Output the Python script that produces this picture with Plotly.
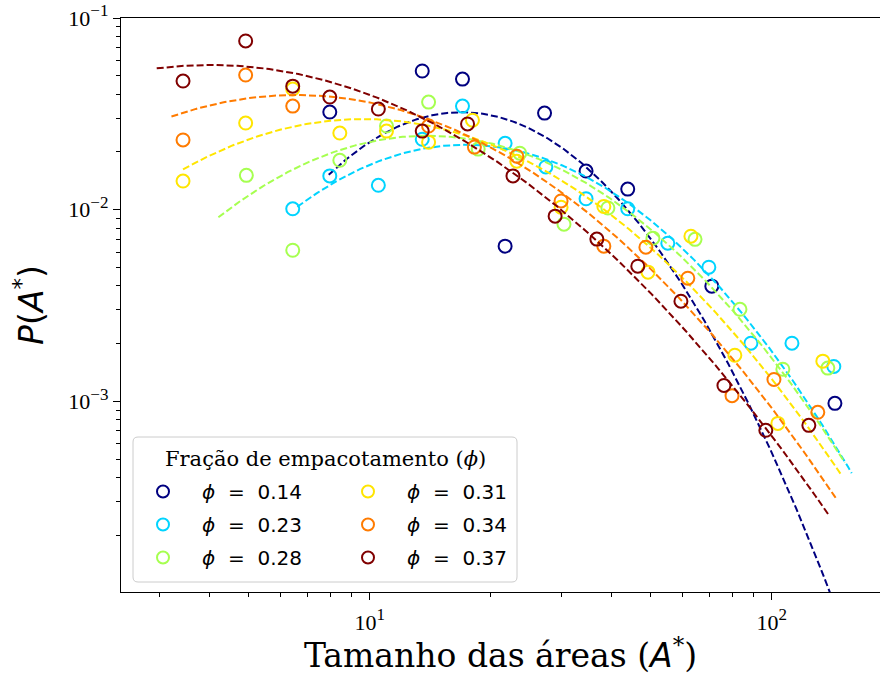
import numpy as np
import plotly.graph_objects as go

# ---- data: binned area distributions for each packing fraction ----
phi = [0.14, 0.23, 0.28, 0.31, 0.34, 0.37]
colors = ["#000080", "#00d4ff", "#a6ff50", "#ffe500", "#ff7b00", "#800000"]

area_014 = [7.95, 13.5, 17.0, 21.7, 27.2, 34.5, 43.8, 70.9, 143.5]
prob_014 = [0.0323, 0.0529, 0.0480, 0.00645, 0.0319, 0.0159, 0.0128, 0.00399, 0.000976]

area_023 = [6.43, 7.95, 10.5, 13.5, 17.0, 21.7, 27.4, 34.5, 43.8, 55.1, 69.7, 88.7, 112.2, 142.6]
prob_023 = [0.0101, 0.0150, 0.0134, 0.0233, 0.0347, 0.0222, 0.0167, 0.0114, 0.0101,
            0.00668, 0.00501, 0.00201, 0.00201, 0.00152]

area_028 = [4.93, 6.43, 8.42, 11.0, 14.0, 18.6, 23.6, 30.4, 39.1, 50.6, 64.4, 83.3, 106.5, 137.8]
prob_028 = [0.0151, 0.00614, 0.0181, 0.0273, 0.0364, 0.0207, 0.0197, 0.0084, 0.0102,
            0.0071, 0.0070, 0.00302, 0.00147, 0.00149]

area_031 = [3.43, 4.91, 6.43, 8.42, 11.0, 14.0, 18.0, 23.2, 29.9, 38.2, 49.2, 62.9, 80.9, 103.5, 133.9]
prob_031 = [0.0141, 0.0283, 0.0426, 0.0251, 0.0257, 0.0225, 0.0293, 0.0179, 0.0103,
            0.0104, 0.00472, 0.00727, 0.00174, 0.000767, 0.00162]

area_034 = [3.43, 4.91, 6.43, 14.0, 18.2, 23.2, 29.9, 38.2, 48.6, 61.8, 79.6, 101.2, 130.1]
prob_034 = [0.0231, 0.0504, 0.0347, 0.0273, 0.0212, 0.0190, 0.0111, 0.00645, 0.00637,
            0.00439, 0.00107, 0.00130, 0.000876]

area_037 = [3.43, 4.91, 6.43, 7.95, 10.5, 13.5, 17.5, 22.7, 28.9, 36.7, 46.4, 59.4, 76.0, 96.6, 123.6]
prob_037 = [0.0469, 0.0759, 0.0441, 0.0387, 0.0335, 0.0257, 0.0280, 0.0150, 0.00925,
            0.00702, 0.00507, 0.00333, 0.00121, 0.000706, 0.000749]

areas = [area_014, area_023, area_028, area_031, area_034, area_037]
probs = [prob_014, prob_023, prob_028, prob_031, prob_034, prob_037]

# ---- log-normal fit parameters for each packing fraction ----
fit_mu = [3.214, 3.470, 3.360, 3.141, 2.867, 2.549]
fit_sigma = [0.621, 0.788, 0.854, 0.937, 0.993, 1.077]
fit_amp = [1.03, 1.015, 1.04, 1.04, 1.06, 1.10]
fit_xmin = [7.9, 6.6, 4.2, 3.43, 3.21, 2.95]
fit_xmax = [143.5, 158.0, 152.0, 148.6, 145.0, 138.7]

SUP = "<sup><span style='font-size:17px'>%s</span></sup>"
x_ticks = [10, 100]
x_ticktext = ["10" + SUP % "1", "10" + SUP % "2"]
y_ticks = [1e-3, 1e-2, 1e-1]
y_ticktext = ["10" + SUP % "\u22123", "10" + SUP % "\u22122", "10" + SUP % "\u22121"]


def lognormal(x, mu, sigma, amp):
    return amp / (x * sigma * np.sqrt(2 * np.pi)) * np.exp(-(np.log(x) - mu) ** 2 / (2 * sigma ** 2))


# ---- figure geometry (pixels) ----
W, H = 880, 675
ML, MR, MT, MB = 121, 0, 18, 83
PW, PH = W - ML - MR, H - MT - MB


def px_x(p):
    return (p - ML) / PW


def px_y(p):
    return (H - MB - p) / PH


NB = "\u00a0"
fig = go.Figure()

for i in range(len(phi)):
    legend_name = "legend" if i < 3 else "legend2"
    fig.add_trace(go.Scatter(
        x=areas[i], y=probs[i], mode="markers",
        name=NB * 3 + "<i>\u03d5</i>" + NB * 2 + "=" + NB * 2 + "%.2f" % phi[i],
        marker=dict(symbol="circle-open", size=13, color=colors[i],
                    line=dict(width=2, color=colors[i])),
        legend=legend_name, legendgroup="g%d" % i,
    ))
    xf = np.logspace(np.log10(fit_xmin[i]), np.log10(fit_xmax[i]), 300)
    yf = lognormal(xf, fit_mu[i], fit_sigma[i], fit_amp[i])
    fig.add_trace(go.Scatter(
        x=xf, y=yf, mode="lines", showlegend=False,
        line=dict(color=colors[i], width=2, dash="7px,3px"),
        legendgroup="g%d" % i, hoverinfo="skip",
    ))

# legend frame with rounded corners
bx0, bx1, by0, by1, r = 133, 517, 437, 582, 5
rx, ry = r / PW, r / PH
X0, X1, Y0, Y1 = px_x(bx0), px_x(bx1), px_y(by1), px_y(by0)
path = (f"M {X0+rx},{Y0} L {X1-rx},{Y0} Q {X1},{Y0} {X1},{Y0+ry} "
        f"L {X1},{Y1-ry} Q {X1},{Y1} {X1-rx},{Y1} L {X0+rx},{Y1} "
        f"Q {X0},{Y1} {X0},{Y1-ry} L {X0},{Y0+ry} Q {X0},{Y0} {X0+rx},{Y0} Z")
fig.add_shape(type="path", path=path, xref="paper", yref="paper",
              fillcolor="white", line=dict(color="#cccccc", width=1), layer="above")

fig.add_annotation(
    text="Fração de empacotamento (<i>\u03d5</i>)", xref="paper", yref="paper",
    x=px_x(325), y=px_y(459), showarrow=False, xanchor="center", yanchor="middle",
    font=dict(family="DejaVu Serif", size=21, color="black"),
)

legend_common = dict(
    bgcolor="rgba(0,0,0,0)", borderwidth=0, orientation="v",
    xanchor="left", yanchor="top", tracegroupgap=4,
    font=dict(family="DejaVu Sans", size=20, color="black"),
    itemsizing="constant",
)

fig.update_layout(
    width=W, height=H,
    margin=dict(l=ML, r=MR, t=MT, b=MB),
    paper_bgcolor="white", plot_bgcolor="white",
    showlegend=True,
    legend=dict(x=px_x(143), y=px_y(472), **legend_common),
    legend2=dict(x=px_x(348), y=px_y(472), **legend_common),
    xaxis=dict(
        type="log", range=[0.381, 2.269],
        showline=True, linecolor="black", linewidth=1.3, mirror=True,
        showgrid=False, zeroline=False,
        ticks="outside", ticklen=7, tickwidth=1.2, tickcolor="black",
        tickmode="array", tickvals=x_ticks, ticktext=x_ticktext,
        tickfont=dict(family="Liberation Serif", size=22, color="black"),
        ticklabelstandoff=3,
        minor=dict(ticks="outside", ticklen=4, tickwidth=1, tickcolor="black",
                   tickmode="array",
                   tickvals=[3, 4, 5, 6, 7, 8, 9, 20, 30, 40, 50, 60, 70, 80, 90, 200]),
        title=dict(text="Tamanho das áreas (<span style='font-family:DejaVu Sans'><i>A</i></span><sup>*</sup>)",
                   font=dict(family="DejaVu Serif", size=33, color="black"), standoff=8),
    ),
    yaxis=dict(
        type="log", range=[-3.995, -1],
        showline=True, linecolor="black", linewidth=1.3, mirror=False,
        showgrid=False, zeroline=False,
        ticks="outside", ticklen=7, tickwidth=1.2, tickcolor="black",
        tickmode="array", tickvals=y_ticks, ticktext=y_ticktext,
        tickfont=dict(family="Liberation Serif", size=22, color="black"),
        minor=dict(ticks="outside", ticklen=4, tickwidth=1, tickcolor="black",
                   tickmode="array",
                   tickvals=[k * 10.0 ** e for e in (-4, -3, -2) for k in range(2, 10)]),
        title=dict(text="<i>P</i>(<i>A</i><sup>*</sup>)",
                   font=dict(family="DejaVu Sans", size=33, color="black"), standoff=14),
    ),
)

fig.write_html("out.html")
